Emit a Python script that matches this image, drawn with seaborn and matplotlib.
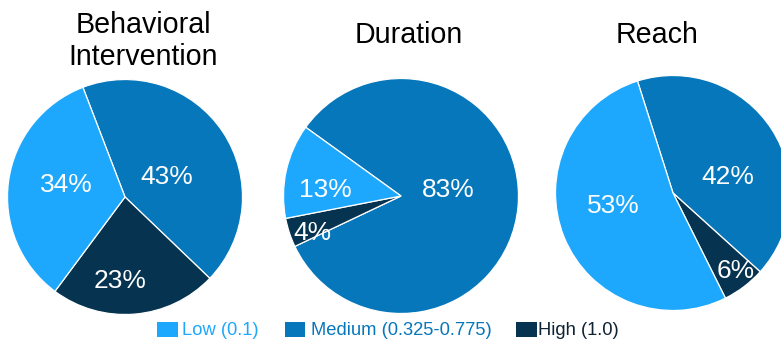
import matplotlib
matplotlib.use("Agg")
import matplotlib.pyplot as plt
from matplotlib.patches import Rectangle
import seaborn as sns

# ---- data -------------------------------------------------------------
categories = ["Low (0.1)", "Medium (0.325-0.775)", "High (1.0)"]
titles = ["Behavioral\nIntervention", "Duration", "Reach"]
behavioral = [34, 43, 23]   # Low, Medium, High (%)
duration = [13, 83, 4]
reach = [53, 42, 6]
series = [behavioral, duration, reach]

# ---- style / layout (pixels) -----------------------------------------
W, H = 781, 339
colors = ["#1ea8fd", "#0677bb", "#06334f"]
legend_text_colors = ["#1ea8fd", "#0677bb", "#0f2233"]
centers = [(125, 197), (401, 196), (673, 193)]
radius = 117.5
start_angles = [111, 144.2, 107.6]
draw_order = [1, 2, 0]          # clockwise: Medium, High, Low
# percentage label centres, in units of the pie radius (Low, Medium, High)
label_xy = [
    [(-0.496, 0.120), (0.359, 0.188), (-0.043, -0.692)],
    [(-0.640, 0.071), (0.404, 0.071), (-0.750, -0.290)],
    [(-0.510, -0.088), (0.464, 0.154), (0.530, -0.640)],
]
title_x = [143, 409, 657]
title_baseline = [33, 43, 43]
title_line_gap = 32
legend_box_x = [157, 284.5, 516]
legend_text_x = [182, 311, 538.5]
legend_box_w, legend_box_h = 20.5, 15
legend_box_top = 321.5
legend_baseline = 335

sns.set_theme(style="white")
plt.rcParams["font.family"] = ["Liberation Sans", "DejaVu Sans"]

fig = plt.figure(figsize=(W / 100, H / 100), dpi=100)
fig.patch.set_facecolor("white")

label_size = 19
for k, vals in enumerate(series):
    cx, cy = centers[k]
    ax = fig.add_axes([(cx - radius) / W, 1 - (cy + radius) / H,
                       2 * radius / W, 2 * radius / H])
    ax.pie([vals[i] for i in draw_order],
           colors=[colors[i] for i in draw_order],
           startangle=start_angles[k], counterclock=False, radius=1,
           wedgeprops=dict(edgecolor="white", linewidth=0.9))
    ax.set_xlim(-1, 1)
    ax.set_ylim(-1, 1)
    ax.set_aspect("equal")
    ax.axis("off")
    for i, v in enumerate(vals):
        x, y = label_xy[k][i]
        ax.annotate(f"{v}%", xy=(x, y), xytext=(0, -0.358 * label_size),
                    textcoords="offset points", ha="center", va="baseline",
                    color="white", fontsize=label_size)

    for j, line in enumerate(titles[k].split("\n")):
        fig.text(title_x[k] / W, 1 - (title_baseline[k] + j * title_line_gap) / H,
                 line, ha="center", va="baseline", fontsize=20.6, color="black")

# legend row
for i, name in enumerate(categories):
    fig.add_artist(Rectangle((legend_box_x[i] / W, 1 - (legend_box_top + legend_box_h) / H),
                             legend_box_w / W, legend_box_h / H,
                             transform=fig.transFigure, facecolor=colors[i],
                             edgecolor="none"))
    fig.text(legend_text_x[i] / W, 1 - legend_baseline / H, name,
             ha="left", va="baseline", fontsize=13.2, color=legend_text_colors[i])

fig.savefig("out.png", dpi=100, facecolor="white")
